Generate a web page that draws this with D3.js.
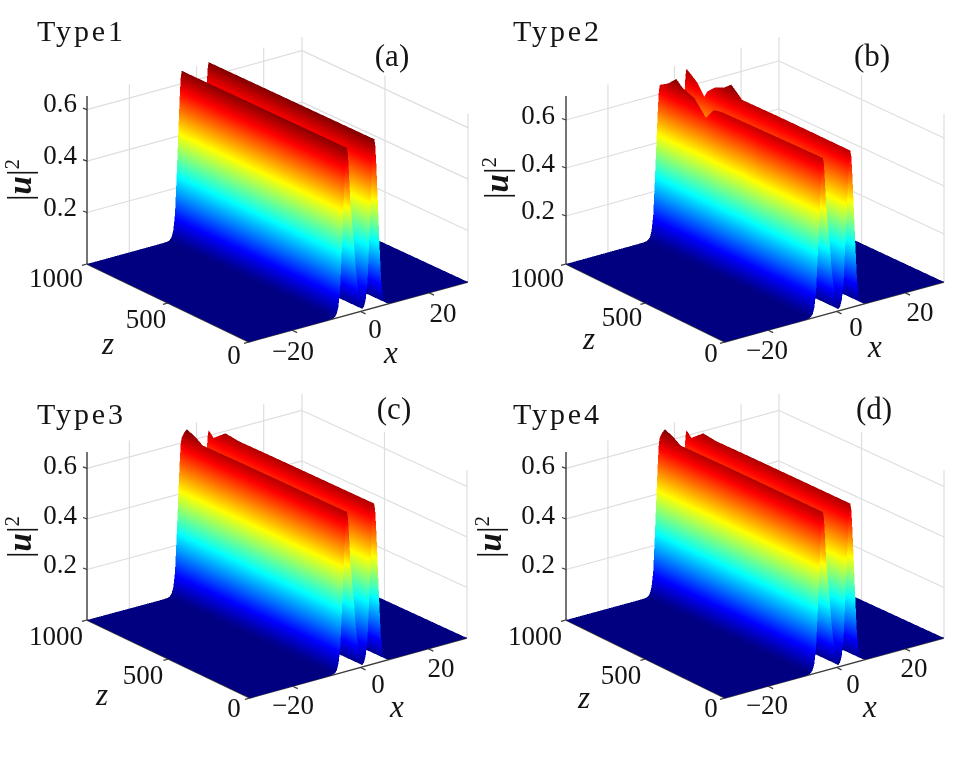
<!DOCTYPE html>
<html>
<head>
<meta charset="utf-8">
<script src="https://cdn.jsdelivr.net/npm/d3@7"></script>
<style>
html,body{margin:0;padding:0;background:#fff;}
#wrap{position:relative;width:953px;height:764px;overflow:hidden;filter:blur(0.35px);}
svg{position:absolute;left:0;top:0;}
canvas{position:absolute;left:0;top:0;width:953px;height:764px;}
text{font-family:"Liberation Serif",serif;fill:#141414;}
</style>
</head>
<body>
<div id="wrap"><svg id="plot" width="953" height="764"></svg><canvas id="surface" width="1906" height="1528"></canvas></div>
<script>
// ---------- data ----------
const typeNames = ["Type1","Type2","Type3","Type4"];
const panelTags = ["(a)","(b)","(c)","(d)"];
const xTicks = [-20,0,20];
const xTickText = ["\u221220","0","20"];
const zTicks = [1000,500,0];
const zTickText = ["1000","500","0"];
const hTicks = [0.6,0.4,0.2];
const hTickText = ["0.6","0.4","0.2"];
const xDomain = [-32.6,31.4];
const zDomain = [0,1000];
const hLimits = [0.653,0.7,0.665,0.665];
const colorMax = [0.655,0.696,0.663,0.663];

// transverse profile |u|^2 of the two-soliton state (x, height at crest 0.65)
const xGrid = [-32.6,-11,-9,-8,-7.5,-7,-6.5,-6,-5.5,-5,-4.6,-4.3,-4,-3.7,-3.4,-3,-2.5,-2,-1.5,-1,-0.5,0,
               0.5,1,1.5,2,2.5,3,3.4,3.7,4,4.3,4.6,5,5.5,6,6.5,7,7.5,8,9,11,31.4];
const profile = [0,0,0.0005,0.002,0.006,0.015,0.04,0.10,0.25,0.42,0.55,0.625,0.65,0.625,0.55,0.44,0.36,0.29,0.19,0.12,0.07,0.03,
                 0.008,0.015,0.04,0.10,0.25,0.42,0.55,0.625,0.65,0.625,0.55,0.42,0.25,0.10,0.04,0.015,0.006,0.002,0.0005,0,0];
const driftZ = [0,1000];
const driftX = [0,-0.4];

// crest height against z for the front (x<0) and back (x>0) soliton in every panel
const frontZ_a = [0,1000];
const frontH_a = [0.65,0.65];
const backZ_a  = [0,1000];
const backH_a  = [0.655,0.655];

const frontZ_b = [0,400,618,667,690,717,739,788,860,899,950,1000];
const frontH_b = [0.655,0.65,0.647,0.64,0.62,0.591,0.61,0.651,0.67,0.695,0.66,0.638];
const backZ_b  = [0,436,660,700,727,770,830,873,891,933,1000];
const backH_b  = [0.655,0.656,0.654,0.68,0.696,0.67,0.65,0.62,0.593,0.638,0.675];

const frontZ_c = [0,600,873,921,970,985,1000];
const frontH_c = [0.63,0.63,0.628,0.65,0.663,0.645,0.622];
const backZ_c  = [0,600,817,898,970,1000];
const backH_c  = [0.634,0.634,0.633,0.64,0.60,0.622];

const frontZ_d = [0,600,873,921,970,985,1000];
const frontH_d = [0.63,0.63,0.628,0.65,0.663,0.645,0.622];
const backZ_d  = [0,600,817,898,970,1000];
const backH_d  = [0.634,0.634,0.633,0.64,0.60,0.622];

const frontZ = [frontZ_a,frontZ_b,frontZ_c,frontZ_d];
const frontH = [frontH_a,frontH_b,frontH_c,frontH_d];
const backZ  = [backZ_a,backZ_b,backZ_c,backZ_d];
const backH  = [backH_a,backH_b,backH_c,backH_d];

// ---------- layout (pixels) ----------
const panels = [
 {A:[87,264],B:[249,342],C:[468,282],D:[302,205],
  h:[60,103,155,207], lz:[[56,278],[146,319],[234,355]], zl:[108,347],
  lx:[[293,351],[375,329],[443,313]], xl:[391,356], ul:[23,180], title:[37,41], tag:[392,57]},
 {A:[566,264],B:[725,342],C:[944,282],D:[779,205],
  h:[538,115,163,210], lz:[[537,278],[622,317],[711,353]], zl:[589,342],
  lx:[[767,350],[856,327],[920,312]], xl:[875,350], ul:[500,178], title:[513,41], tag:[872,57]},
 {A:[87,620],B:[250,698],C:[467,638],D:[302,562],
  h:[60,465,515,564], lz:[[56,636],[143,675],[234,708]], zl:[102,698],
  lx:[[293,705],[378,684],[441,668]], xl:[397,710], ul:[23,537], title:[37,424], tag:[394,410]},
 {A:[566,620],B:[725,698],C:[944,638],D:[779,562],
  h:[538,465,515,564], lz:[[535,636],[621,675],[711,708]], zl:[584,701],
  lx:[[767,705],[853,684],[914,668]], xl:[870,710], ul:[493,537], title:[513,424], tag:[874,410]}
];
const boxH = 168;
const fs = 27;
const SS = 2;

// ---------- scales ----------
const xFrac = d3.scaleLinear().domain(xDomain).range([0,1]);
const zFrac = d3.scaleLinear().domain(zDomain).range([1,0]);   // 1 at z=0
const drift = d3.scaleLinear().domain(driftZ).range(driftX);
const jet = d3.scaleLinear()
  .domain([0,0.125,0.375,0.625,0.875,1])
  .range(["#000080","#0000ff","#00ffff","#ffff00","#ff0000","#800000"])
  .interpolate(d3.interpolateRgb).clamp(true);
const jetTable = d3.range(2048).map(k=>{const c=d3.rgb(jet(k/2047)); return [c.r,c.g,c.b];});

function projector(p,hScale){
  return function(x,z,h){
    const u = xFrac(x), v = zFrac(z);
    const bx=p.A[0]+(p.D[0]-p.A[0])*u, by=p.A[1]+(p.D[1]-p.A[1])*u;
    const fx=p.B[0]+(p.C[0]-p.B[0])*u, fy=p.B[1]+(p.C[1]-p.B[1])*u;
    return [bx+(fx-bx)*v, by+(fy-by)*v-hScale(h)];
  };
}

const svg = d3.select("#plot");
const cv = document.getElementById("surface");
const ctx = cv.getContext("2d");
const W=cv.width, H=cv.height;
const img = ctx.createImageData(W,H);
const buf = img.data;

function tri(a,b,c,col){
  let ax=a[0]*SS,ay=a[1]*SS,bx=b[0]*SS,by=b[1]*SS,cx=c[0]*SS,cy=c[1]*SS;
  const area=(bx-ax)*(cy-ay)-(by-ay)*(cx-ax);
  if(area===0) return;
  if(area<0){let t=bx;bx=cx;cx=t;t=by;by=cy;cy=t;}
  const x0=Math.max(0,Math.floor(Math.min(ax,bx,cx))),x1=Math.min(W-1,Math.ceil(Math.max(ax,bx,cx)));
  const y0=Math.max(0,Math.floor(Math.min(ay,by,cy))),y1=Math.min(H-1,Math.ceil(Math.max(ay,by,cy)));
  const e=-1e-6;
  for(let y=y0;y<=y1;y++){
    const py=y+0.5;
    for(let x=x0;x<=x1;x++){
      const px=x+0.5;
      if((bx-ax)*(py-ay)-(by-ay)*(px-ax)<e) continue;
      if((cx-bx)*(py-by)-(cy-by)*(px-bx)<e) continue;
      if((ax-cx)*(py-cy)-(ay-cy)*(px-cx)<e) continue;
      const o=(y*W+x)*4;
      buf[o]=col[0];buf[o+1]=col[1];buf[o+2]=col[2];buf[o+3]=255;
    }
  }
}

panels.forEach((p,i)=>{
  const hMax = hLimits[i];
  const hScale = d3.scaleLinear().domain([0,hMax]).range([0,boxH]);
  const proj = projector(p,hScale);
  const g = svg.append("g");
  const seg = (a,b,col,w)=> g.append("line").attr("x1",a[0]).attr("y1",a[1]).attr("x2",b[0]).attr("y2",b[1])
      .attr("stroke",col).attr("stroke-width",w);
  const gridCol = "#dedede";

  // grid on the two back walls
  hTicks.forEach(t=>{
    seg(proj(xDomain[0],1000,t),proj(xDomain[1],1000,t),gridCol,1.2);
    seg(proj(xDomain[1],1000,t),proj(xDomain[1],0,t),gridCol,1.2);
  });
  xTicks.forEach(t=> seg(proj(t,1000,0),proj(t,1000,hMax),gridCol,1.2));
  [0,500,1000].forEach(t=> seg(proj(xDomain[1],t,0),proj(xDomain[1],t,hMax),gridCol,1.2));

  // axes
  const axCol = "#3a3a3a";
  seg(proj(xDomain[0],1000,0),proj(xDomain[0],1000,hMax),axCol,1.4);
  seg(proj(xDomain[0],1000,0),proj(xDomain[0],0,0),axCol,1.4);
  seg(proj(xDomain[0],0,0),proj(xDomain[1],0,0),axCol,1.4);
  hTicks.forEach(t=>{const a=proj(xDomain[0],1000,t); seg(a,[a[0]-4,a[1]-1.5],axCol,1.2); });
  zTicks.forEach(t=>{const a=proj(xDomain[0],t,0); seg(a,[a[0]-5,a[1]+1.4],axCol,1.2); });
  xTicks.forEach(t=>{const a=proj(t,0,0); seg(a,[a[0]+5,a[1]+2.4],axCol,1.2); });

  // text
  const label = (xy,str,dy,size)=> g.append("text").attr("x",xy[0]).attr("y",xy[1]+dy)
      .attr("text-anchor","middle").attr("font-size",size).text(str);
  hTickText.forEach((s,k)=> label([p.h[0],p.h[k+1]],s,9,fs));
  zTickText.forEach((s,k)=> label(p.lz[k],s,9,fs));
  xTickText.forEach((s,k)=> label(p.lx[k],s,9,fs));
  label(p.xl,"x",7,31).attr("font-style","italic");
  label(p.zl,"z",7,31).attr("font-style","italic");
  label(p.tag,panelTags[i],9,31);
  g.append("text").attr("x",p.title[0]).attr("y",p.title[1]).attr("font-size",30)
    .attr("textLength",86).attr("lengthAdjust","spacing").text(typeNames[i]);
  const ul = g.append("text").attr("transform",`translate(${p.ul[0]+8},${p.ul[1]}) rotate(-90)`)
    .attr("text-anchor","middle").attr("font-size",33);
  ul.append("tspan").text("|");
  ul.append("tspan").attr("font-style","italic").attr("font-weight","bold").text("u");
  ul.append("tspan").text("|");
  ul.append("tspan").attr("font-size",21).attr("dy",-12).text("2");

  // surface rows: every read z node, refined where the crest moves quickly (shading only)
  const front = d3.scaleLinear().domain(frontZ[i]).range(frontH[i]);
  const back  = d3.scaleLinear().domain(backZ[i]).range(backH[i]);
  const nodes = Array.from(new Set(frontZ[i].concat(backZ[i]))).sort((a,b)=>a-b);
  const rows = [];
  nodes.forEach((z,k)=>{
    rows.push(z);
    if(k<nodes.length-1){
      const gap = nodes[k+1]-z;
      if(gap<=120){ const n=Math.ceil(gap/8); for(let q=1;q<n;q++) rows.push(z+gap*q/n); }
    }
  });
  const color = d3.scaleLinear().domain([0,colorMax[i]]).range([0,2047]).clamp(true);
  const vertex = (j,z)=>{
    const x0 = xGrid[j];
    const x = Math.abs(x0)<=11 ? x0+drift(z) : x0;
    const crest = x0<0 ? front(z) : back(z);
    return {x, z, h: profile[j]*crest/0.65};
  };
  const mix=(l,m,t)=>({x:l.x+(m.x-l.x)*t,z:l.z,h:l.h+(m.h-l.h)*t});
  // painter's order: far rows first, far columns first
  for(let r=rows.length-2;r>=0;r--){
    const z0=rows[r], z1=rows[r+1];
    for(let j=xGrid.length-2;j>=0;j--){
      const a=vertex(j,z1), b=vertex(j+1,z1), c=vertex(j+1,z0), d=vertex(j,z0);
      const span=Math.max(Math.abs(hScale(a.h)-hScale(b.h)),Math.abs(hScale(c.h)-hScale(d.h)));
      const flat=a.h===0&&b.h===0&&c.h===0&&d.h===0;
      const wide=(xGrid[j+1]-xGrid[j])*3.4;
      const n=flat?1:Math.max(1,Math.ceil(Math.max(span,wide)/0.5));
      for(let q=n-1;q>=0;q--){
        const s0=q/n, s1=(q+1)/n;
        const p1=mix(a,b,s0),p2=mix(a,b,s1),p3=mix(d,c,s1),p4=mix(d,c,s0);
        const col=jetTable[Math.round(color((p1.h+p2.h+p3.h+p4.h)/4))];
        const P1=proj(p1.x,p1.z,p1.h),P2=proj(p2.x,p2.z,p2.h),P3=proj(p3.x,p3.z,p3.h),P4=proj(p4.x,p4.z,p4.h);
        tri(P1,P2,P3,col); tri(P1,P3,P4,col);
      }
    }
  }
});
ctx.putImageData(img,0,0);
</script>
</body>
</html>
